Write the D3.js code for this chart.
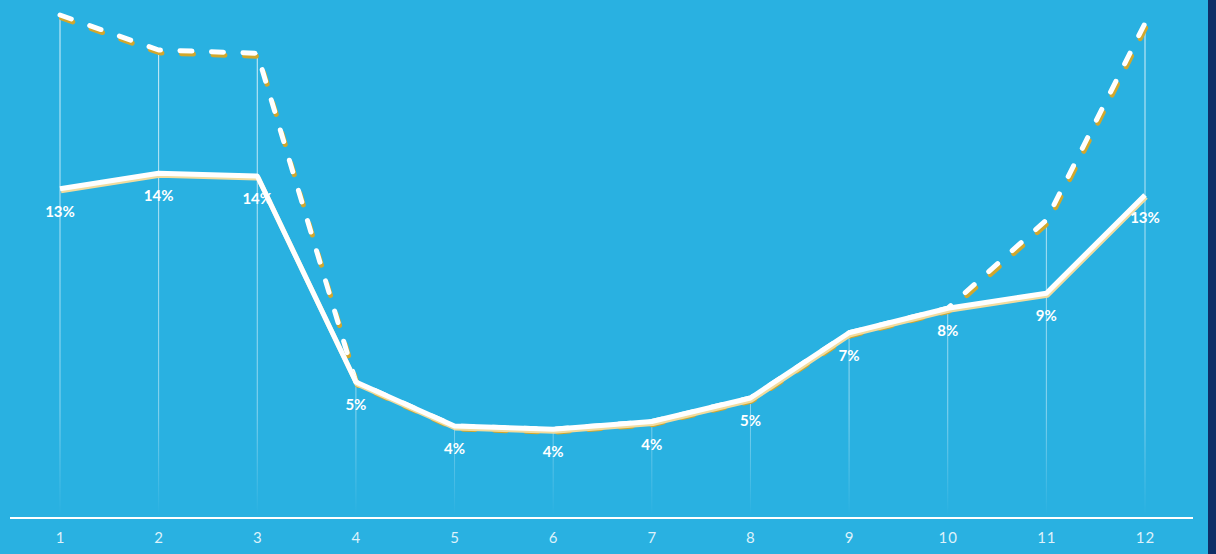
<!DOCTYPE html>
<html>
<head>
<meta charset="utf-8">
<script src="https://cdn.jsdelivr.net/npm/d3@7/dist/d3.min.js"></script>
<style>
  html, body { margin: 0; padding: 0; background: #29B1E1; }
  svg { display: block; }
</style>
</head>
<body>
<svg id="chart" width="1216" height="554"></svg>
<script>
// ---- data ----
const months = [1, 2, 3, 4, 5, 6, 7, 8, 9, 10, 11, 12];
const actual = [13.17, 13.79, 13.68, 5.44, 3.68, 3.55, 3.86, 4.8, 7.41, 8.39, 8.99, 12.92];
const forecast = [20.12, 18.72, 18.59, 5.44, 3.68, 3.55, 3.86, 4.8, 7.41, 8.39, 11.92, 19.79];
const yDomain = [0, 20];

// ---- layout ----
const W = 1216, H = 554;
const svg = d3.select("#chart");

svg.append("rect").attr("width", W).attr("height", H).attr("fill", "#29B1E1");
svg.append("rect").attr("x", 1208).attr("y", 0).attr("width", 8).attr("height", H).attr("fill", "#0E2E66");

const x = d3.scalePoint().domain(months).range([60, 1145]);
const y = d3.scaleLinear().domain(yDomain).range([518, 18]);

const defs = svg.append("defs");
const grad = defs.append("linearGradient")
  .attr("id", "dropGrad").attr("gradientUnits", "userSpaceOnUse")
  .attr("x1", 0).attr("y1", 0).attr("x2", 0).attr("y2", 515);
grad.append("stop").attr("offset", "0").attr("stop-color", "#fff").attr("stop-opacity", 0.85);
grad.append("stop").attr("offset", "0.8").attr("stop-color", "#fff").attr("stop-opacity", 0.45);
grad.append("stop").attr("offset", "1").attr("stop-color", "#fff").attr("stop-opacity", 0);

// drop lines
svg.append("g").selectAll("line").data(months).join("line")
  .attr("x1", d => x(d)).attr("x2", d => x(d))
  .attr("y1", (d, i) => y(Math.max(actual[i], forecast[i])))
  .attr("y2", 515)
  .attr("stroke", "url(#dropGrad)").attr("stroke-width", 1);

const line = d3.line().x((d, i) => x(months[i])).y(d => y(d));
const dash = "12 19.5";

// forecast dashed line (shadow + white)
svg.append("path").datum(forecast)
  .attr("d", line).attr("fill", "none")
  .attr("transform", "translate(1.5,3)")
  .attr("stroke", "#D2A72C").attr("stroke-width", 5)
  .attr("stroke-linecap", "round").attr("stroke-linejoin", "round")
  .attr("stroke-dasharray", dash);
svg.append("path").datum(forecast)
  .attr("d", line).attr("fill", "none")
  .attr("stroke", "#fff").attr("stroke-width", 5)
  .attr("stroke-linecap", "round").attr("stroke-linejoin", "round")
  .attr("stroke-dasharray", dash);

// actual solid line (shadow + white)
svg.append("path").datum(actual)
  .attr("d", line).attr("fill", "none")
  .attr("transform", "translate(1,2)")
  .attr("stroke", "#F2DC9E").attr("stroke-width", 5)
  .attr("stroke-linejoin", "round");
svg.append("path").datum(actual)
  .attr("d", line).attr("fill", "none")
  .attr("stroke", "#fff").attr("stroke-width", 5)
  .attr("stroke-linejoin", "round");

// value labels
const fmt = v => d3.format(".0f")(v) + "%";
svg.append("g").selectAll("text").data(actual).join("text")
  .attr("x", (d, i) => x(months[i]))
  .attr("y", d => y(d) + 28)
  .attr("text-anchor", "middle")
  .attr("fill", "#fff")
  .attr("font-family", "Lato, 'Open Sans', sans-serif")
  .attr("font-weight", 700)
  .attr("font-size", 15)
  .text(fmt);

// x axis
const axis = svg.append("g").attr("transform", "translate(0,518)")
  .call(d3.axisBottom(x).tickSize(0).tickPadding(14));
axis.select(".domain").remove();
axis.selectAll("text")
  .attr("fill", "#DDF2FB")
  .attr("font-family", "Lato, 'Open Sans', sans-serif")
  .attr("font-size", 15)
  .attr("letter-spacing", "1px");
svg.append("line").attr("x1", 10).attr("x2", 1193).attr("y1", 518).attr("y2", 518)
  .attr("stroke", "#fff").attr("stroke-width", 2);
</script>
</body>
</html>
